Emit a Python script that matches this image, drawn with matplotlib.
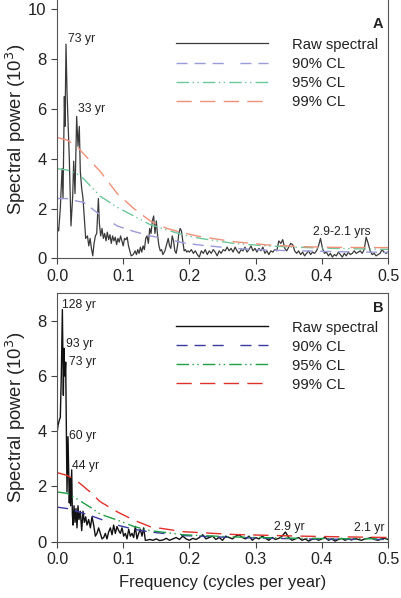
import matplotlib

matplotlib.use("Agg")
import matplotlib.pyplot as plt
import numpy as np

plt.rcParams["font.family"] = ["Liberation Sans", "DejaVu Sans"]

# ---- panel A: raw spectrum (frequency, power in 10^3) ----
freq_a = [
    0.000, 0.0025, 0.005, 0.0076, 0.0091, 0.0111, 0.0121, 0.0136, 0.0151, 0.0166,
    0.0186, 0.0211, 0.0237, 0.0252, 0.0272, 0.0297, 0.0317, 0.0337, 0.0352, 0.0373,
    0.0393, 0.0413, 0.0433, 0.046, 0.048, 0.050, 0.052, 0.054, 0.056, 0.058,
    0.060, 0.0625, 0.064, 0.066, 0.068, 0.070, 0.072, 0.074, 0.076, 0.078,
    0.080, 0.082, 0.084, 0.086, 0.088, 0.090, 0.092, 0.094, 0.096, 0.098,
    0.100, 0.102, 0.104, 0.106, 0.108, 0.110, 0.112, 0.115, 0.118, 0.120,
    0.122, 0.124, 0.126, 0.128, 0.130, 0.132, 0.134, 0.136, 0.138, 0.140,
    0.142, 0.144, 0.146, 0.148, 0.150, 0.152, 0.154, 0.156, 0.158, 0.160,
    0.163, 0.166, 0.168, 0.170, 0.172, 0.174, 0.176, 0.178, 0.180, 0.182,
    0.184, 0.186, 0.188, 0.190, 0.192, 0.194, 0.196, 0.198, 0.200, 0.203,
    0.206, 0.209, 0.212, 0.215, 0.218, 0.221, 0.224, 0.227, 0.230, 0.233,
    0.236, 0.239, 0.242, 0.245, 0.248, 0.251, 0.254, 0.257, 0.260, 0.263,
    0.266, 0.269, 0.272, 0.275, 0.278, 0.281, 0.284, 0.287, 0.290, 0.293,
    0.296, 0.299, 0.302, 0.305, 0.308, 0.311, 0.314, 0.317, 0.320, 0.323,
    0.326, 0.329, 0.332, 0.335, 0.338, 0.341, 0.344, 0.347, 0.350, 0.353,
    0.356, 0.359, 0.362, 0.365, 0.368, 0.371, 0.374, 0.377, 0.380, 0.383,
    0.386, 0.389, 0.392, 0.395, 0.398, 0.401, 0.404, 0.407, 0.410, 0.413,
    0.416, 0.419, 0.422, 0.425, 0.428, 0.431, 0.434, 0.437, 0.440, 0.443,
    0.446, 0.449, 0.452, 0.455, 0.458, 0.461, 0.464, 0.467, 0.470, 0.473,
    0.476, 0.479, 0.482, 0.485, 0.488, 0.491, 0.494, 0.497, 0.500,
]
power_a = [
    1.3, 1.1, 2.0, 3.6, 2.4, 6.5, 5.3, 8.6, 6.7, 5.5,
    4.0, 1.3, 2.5, 3.9, 2.6, 5.7, 4.5, 5.3, 3.5, 2.8,
    2.4, 1.6, 0.8, 0.9, 0.5, 0.8, 0.4, 0.1, 0.6, 0.9,
    1.0, 2.4, 1.4, 0.9, 1.2, 0.8, 1.0, 0.7, 1.05, 0.75,
    0.95, 0.6, 0.9, 0.7, 0.85, 0.55, 0.8, 0.65, 0.9, 0.7,
    0.5, 0.8, 0.75, 0.85, 0.5, 0.3, 0.1, 0.15, 0.3, 0.15,
    0.35, 0.2, 0.45, 0.25, 0.5, 0.35, 0.8, 0.9, 0.6, 1.2,
    1.0, 1.5, 1.7, 1.0, 1.5, 0.9, 0.5, 0.3, 0.35, 0.15,
    0.3, 0.6, 0.8, 0.5, 0.4, 0.9, 0.7, 0.3, 0.2, 0.5,
    1.0, 1.2, 1.1, 0.7, 0.3, 0.35, 0.25, 0.3, 0.25, 0.35,
    0.2, 0.3, 0.15, 0.05, 0.3, 0.2, 0.35, 0.15, 0.3, 0.2,
    0.35, 0.25, 0.1, 0.3, 0.2, 0.35, 0.3, 0.45, 0.3, 0.4,
    0.25, 0.45, 0.3, 0.2, 0.35, 0.3, 0.45, 0.25, 0.35, 0.5,
    0.3, 0.4, 0.25, 0.4, 0.3, 0.45, 0.2, 0.3, 0.15, 0.3,
    0.25, 0.35, 0.3, 0.7, 0.6, 0.75, 0.4, 0.3, 0.45, 0.6,
    0.55, 0.3, 0.2, 0.3, 0.15, 0.25, 0.1, 0.2, 0.3, 0.15,
    0.25, 0.2, 0.3, 0.5, 0.8, 0.4, 0.2, 0.25, 0.1, 0.2,
    0.05, 0.15, 0.1, 0.25, 0.15, 0.05, 0.2, 0.1, 0.25, 0.15,
    0.2, 0.3, 0.2, 0.25, 0.3, 0.2, 0.35, 0.85, 0.6, 0.3,
    0.15, 0.2, 0.1, 0.15, 0.2, 0.35, 0.25, 0.2, 0.25,
]

# confidence levels, panel A
cl_freq_a = [0.0, 0.015, 0.03, 0.04, 0.065, 0.091, 0.116, 0.141, 0.166, 0.191,
             0.217, 0.267, 0.317, 0.368, 0.418, 0.5]
cl90_a = [2.4, 2.4, 2.3, 2.25, 1.75, 1.3, 1.08, 0.9, 0.78, 0.62,
          0.53, 0.4, 0.33, 0.3, 0.27, 0.24]
cl95_a = [3.6, 3.55, 3.4, 3.2, 2.5, 2.05, 1.7, 1.35, 1.14, 0.94,
          0.8, 0.6, 0.5, 0.44, 0.4, 0.36]
cl99_a = [4.85, 4.75, 4.5, 4.2, 3.5, 2.6, 2.0, 1.5, 1.2, 1.02,
          0.87, 0.67, 0.54, 0.47, 0.44, 0.43]

# ---- panel B ----
freq_b = [
    0.000, 0.0015, 0.0035, 0.005, 0.0065, 0.0081, 0.0091, 0.0096, 0.0106, 0.0116,
    0.0126, 0.0131, 0.0141, 0.0151, 0.0166, 0.0176, 0.0186, 0.0196, 0.0206, 0.0222,
    0.0232, 0.0242, 0.0257, 0.0272, 0.0287, 0.0302, 0.0317, 0.0332, 0.0352, 0.0373,
    0.0393, 0.0413, 0.0433, 0.0453, 0.0478, 0.0504, 0.0529, 0.0554, 0.0579, 0.0604,
    0.0629, 0.0655, 0.068, 0.0705, 0.073, 0.0755, 0.078, 0.0806, 0.0831, 0.0856,
    0.0881, 0.0906, 0.0932, 0.0957, 0.0982, 0.1007, 0.1032, 0.1057, 0.1083, 0.1108,
    0.1133, 0.1158, 0.1183, 0.1208, 0.1234, 0.1259, 0.1284, 0.1309, 0.1334,
    0.135, 0.140, 0.145, 0.150, 0.155, 0.160, 0.165, 0.170, 0.175, 0.180,
    0.185, 0.190, 0.195, 0.200, 0.205, 0.210, 0.215, 0.220, 0.225, 0.230,
    0.235, 0.240, 0.245, 0.250, 0.255, 0.260, 0.265, 0.270, 0.275, 0.280,
    0.285, 0.290, 0.295, 0.300, 0.305, 0.310, 0.315, 0.320, 0.325, 0.330,
    0.335, 0.340, 0.345, 0.350, 0.355, 0.360, 0.365, 0.370, 0.375, 0.380,
    0.385, 0.390, 0.395, 0.400, 0.405, 0.410, 0.415, 0.420, 0.425, 0.430,
    0.435, 0.440, 0.445, 0.450, 0.455, 0.460, 0.465, 0.470, 0.475, 0.480,
    0.485, 0.490, 0.495, 0.500,
]
power_b = [
    3.9, 4.2, 4.4, 4.5, 6.0, 8.4, 6.5, 5.3, 7.0, 6.0,
    6.2, 6.5, 4.0, 1.8, 3.8, 2.5, 1.4, 2.3, 1.3, 2.6,
    1.0, 0.6, 1.3, 0.7, 1.2, 0.5, 1.3, 0.8, 1.1, 0.4,
    1.1, 0.7, 0.9, 0.6, 0.8, 0.5, 0.9, 0.6, 0.2, 0.3,
    0.5, 0.3, 0.1, 0.15, 0.3, 0.1, 0.35, 0.5, 0.25, 0.6,
    0.3, 0.55, 0.4, 0.3, 0.5, 0.2, 0.3, 0.1, 0.45, 0.2,
    0.3, 0.15, 0.55, 0.1, 0.3, 0.45, 0.2, 0.5, 0.05,
    0.05, 0.08, 0.05, 0.1, 0.04, 0.06, 0.12, 0.05, 0.1, 0.15,
    0.08, 0.2, 0.1, 0.05, 0.12, 0.08, 0.15, 0.25, 0.1, 0.15,
    0.2, 0.08, 0.15, 0.05, 0.2, 0.15, 0.1, 0.2, 0.25, 0.15,
    0.1, 0.2, 0.05, 0.15, 0.1, 0.2, 0.12, 0.05, 0.15, 0.08,
    0.12, 0.2, 0.35, 0.15, 0.05, 0.1, 0.15, 0.05, 0.1, 0.02,
    0.08, 0.12, 0.05, 0.1, 0.15, 0.05, 0.1, 0.02, 0.08, 0.12,
    0.05, 0.1, 0.06, 0.12, 0.08, 0.05, 0.1, 0.12, 0.15, 0.08,
    0.05, 0.1, 0.12, 0.08,
]

cl_freq_b = [0.0, 0.015, 0.03, 0.05, 0.065, 0.091, 0.116, 0.141, 0.191, 0.267,
             0.368, 0.418, 0.5]
cl90_b = [1.25, 1.2, 1.1, 0.95, 0.82, 0.6, 0.45, 0.35, 0.22, 0.15, 0.1, 0.09, 0.08]
cl95_b = [1.8, 1.75, 1.55, 1.25, 1.0, 0.78, 0.55, 0.4, 0.25, 0.17, 0.12, 0.11, 0.1]
cl99_b = [2.5, 2.4, 2.2, 1.8, 1.45, 1.08, 0.78, 0.54, 0.36, 0.26, 0.2, 0.18, 0.15]

legend_labels = ["Raw spectral", "90% CL", "95% CL", "99% CL"]

peaks_a = ["73 yr", "33 yr", "2.9-2.1 yrs"]
peak_pos_a = [(0.017, 8.8), (0.032, 6.0), (0.386, 1.06)]
peaks_b = ["128 yr", "93 yr", "73 yr", "60 yr", "44 yr", "2.9 yr", "2.1 yr"]
peak_pos_b = [(0.008, 8.55), (0.014, 7.14), (0.0185, 6.49), (0.0185, 3.82),
              (0.023, 2.73), (0.328, 0.53), (0.449, 0.49)]

DASH_90 = (8, 5, 8, 5, 8, 12)
DASH_95 = (9, 2.5, 1, 2.5, 1, 3)
DASH_99 = (11, 6)
TEXT_COLOR = "#222222"


def draw_panel(ax, freq, power, cl_freq, cl90, cl95, cl99, colors, raw_lw,
               peaks, peak_pos, tag, legend_top):
    raw_c, c90, c95, c99 = colors
    h_raw, = ax.plot(freq, power, color=raw_c, lw=raw_lw)
    h90, = ax.plot(cl_freq, cl90, color=c90, lw=1.0, dashes=DASH_90)
    h95, = ax.plot(cl_freq, cl95, color=c95, lw=1.0, dashes=DASH_95)
    h99, = ax.plot(cl_freq, cl99, color=c99, lw=1.0, dashes=DASH_99)

    for label, (x, y) in zip(peaks, peak_pos):
        ax.text(x, y, label, fontsize=8.8, color=TEXT_COLOR, va="center", ha="left")
    ax.text(0.493, tag[1], tag[0], fontsize=10.5, fontweight="bold",
            color=TEXT_COLOR, ha="right", va="center")

    ax.legend([h_raw, h90, h95, h99], legend_labels, loc="upper left",
              bbox_to_anchor=(0.438, legend_top), bbox_transform=ax.figure.transFigure,
              frameon=False, fontsize=10.7, handlelength=6.2, handletextpad=1.6,
              labelspacing=0.34, borderpad=0, borderaxespad=0, labelcolor=TEXT_COLOR)

    ax.set_xlim(0, 0.5)
    ax.set_xticks([0.0, 0.1, 0.2, 0.3, 0.4, 0.5])
    ax.set_xticklabels(["0.0", "0.1", "0.2", "0.3", "0.4", "0.5"])
    ax.tick_params(direction="out", length=4, width=0.8, colors="#444444",
                   labelcolor=TEXT_COLOR, labelsize=12, top=False, right=False)
    ax.tick_params(axis="x", labelsize=11.5)
    for side in ["left", "bottom", "right", "top"]:
        ax.spines[side].set_color("#555555")
        ax.spines[side].set_linewidth(0.8)
    ax.set_ylabel("Spectral power (10$^3$)", fontsize=13.3, color=TEXT_COLOR)
    ax.yaxis.set_label_coords(-0.088, 0.5)


fig = plt.figure(figsize=(4.02, 5.98), dpi=100)
ax_a = fig.add_axes([0.1418, 0.568, 0.8234, 0.432])
ax_b = fig.add_axes([0.1418, 0.0942, 0.8234, 0.4158])

draw_panel(ax_a, freq_a, power_a, cl_freq_a, cl90_a, cl95_a, cl99_a,
           ["#3a3a3a", "#9a9ad8", "#6cc79a", "#f0907a"], 0.9,
           peaks_a, peak_pos_a, ("A", 9.4), 0.937)
ax_a.set_ylim(0, 10.373)
ax_a.set_yticks([0, 2, 4, 6, 8, 10])
ax_a.spines["top"].set_visible(False)

draw_panel(ax_b, freq_b, power_b, cl_freq_b, cl90_b, cl95_b, cl99_b,
           ["#111111", "#3a3aa0", "#1f9e45", "#e0302a"], 1.0,
           peaks_b, peak_pos_b, ("B", 8.47), 0.464)
ax_b.set_ylim(0, 9)
ax_b.set_yticks([0, 2, 4, 6, 8])
ax_b.set_xlabel("Frequency (cycles per year)", fontsize=12, color=TEXT_COLOR, labelpad=6)

fig.savefig("out.png", dpi=100)
